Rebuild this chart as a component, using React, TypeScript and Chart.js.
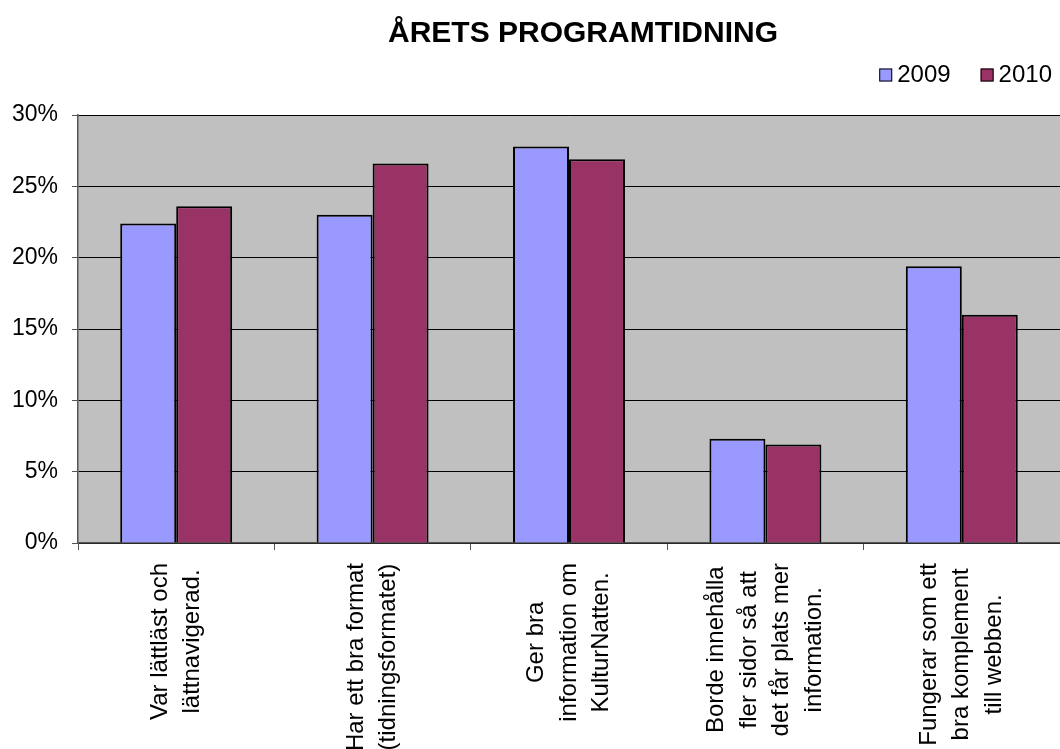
import React, { useEffect, useRef } from "react";
import { Chart, registerables } from "chart.js";

Chart.register(...registerables);

const TITLE = "ÅRETS PROGRAMTIDNING";
const CATEGORIES: string[][] = [
  ["Var lättläst och", "lättnavigerad."],
  ["Har ett bra format", "(tidningsformatet)"],
  ["Ger bra", "information om", "KulturNatten."],
  ["Borde innehålla", "fler sidor så att", "det får plats mer", "information."],
  ["Fungerar som ett", "bra komplement", "till webben."],
];
const SERIES_2009 = [22.4, 23.0, 27.8, 7.3, 19.4];
const SERIES_2010 = [23.6, 26.6, 26.9, 6.9, 16.0];
const SERIES_NAMES = ["2009", "2010"];
const Y_TICKS = [0, 5, 10, 15, 20, 25, 30];

const FONT = "'Liberation Sans', Arial, sans-serif";

const titlePlugin = {
  id: "customTitle",
  afterDraw(chart: any) {
    const ctx = chart.ctx;
    ctx.save();
    ctx.font = `bold 30px ${FONT}`;
    ctx.fillStyle = "#000";
    ctx.textAlign = "center";
    ctx.textBaseline = "middle";
    ctx.fillText(TITLE, chart.width * 0.55, 34);
    ctx.restore();
  },
};

// legend drawn from the datasets (label + colour), right-aligned at the top
const legendPlugin = {
  id: "customLegend",
  afterDraw(chart: any) {
    const ctx = chart.ctx;
    const items = chart.data.datasets.map((d: any) => ({ text: d.label, color: d.backgroundColor }));
    ctx.save();
    ctx.font = `24px ${FONT}`;
    ctx.textBaseline = "middle";
    ctx.textAlign = "left";
    const cy = 75;
    const box = 13;
    const gapBoxText = 5;
    const gapItems = 30;
    let right = chart.width - 8;
    for (let i = items.length - 1; i >= 0; i--) {
      const it = items[i];
      const tw = ctx.measureText(it.text).width;
      const tx = right - tw;
      const bx = tx - gapBoxText - box;
      ctx.fillStyle = it.color;
      ctx.fillRect(bx, cy - box / 2, box, box);
      ctx.strokeStyle = "#000";
      ctx.lineWidth = 1;
      ctx.strokeRect(bx + 0.5, cy - box / 2 + 0.5, box - 1, box - 1);
      ctx.fillStyle = "#000";
      ctx.fillText(it.text, tx, cy);
      right = bx - gapItems;
    }
    ctx.restore();
  },
};

const catLabelPlugin = {
  id: "catLabels",
  afterDraw(chart: any) {
    const ctx = chart.ctx;
    const xs = chart.scales.x;
    const bottom = chart.chartArea.bottom;
    const lineH = 32.5;
    ctx.save();
    ctx.font = `24px ${FONT}`;
    ctx.fillStyle = "#000";
    ctx.textAlign = "center";
    ctx.textBaseline = "middle";
    CATEGORIES.forEach((lines, i) => {
      const x = xs.getPixelForValue(i);
      const maxW = Math.max(...lines.map((l) => ctx.measureText(l).width));
      ctx.save();
      ctx.translate(x, bottom + 20 + maxW / 2);
      ctx.rotate(-Math.PI / 2);
      lines.forEach((line, j) => {
        const off = (j - (lines.length - 1) / 2) * lineH;
        ctx.fillText(line, 0, off);
      });
      ctx.restore();
    });
    ctx.restore();
  },
};

const bgPlugin = {
  id: "plotBg",
  beforeDraw(chart: any) {
    const { ctx, chartArea } = chart;
    ctx.save();
    ctx.fillStyle = "#C0C0C0";
    ctx.fillRect(chartArea.left, chartArea.top, chartArea.right - chartArea.left, chartArea.bottom - chartArea.top);
    ctx.restore();
  },
};

export default function App() {
  const ref = useRef<HTMLCanvasElement | null>(null);

  useEffect(() => {
    document.body.style.margin = "0";
    if (!ref.current) return;
    const chart = new Chart(ref.current, {
      type: "bar",
      data: {
        labels: CATEGORIES.map((c) => c.join(" ")),
        datasets: [
          {
            label: SERIES_NAMES[0],
            data: SERIES_2009,
            backgroundColor: "#9999FF",
            borderColor: "#000000",
            borderWidth: 2,
          },
          {
            label: SERIES_NAMES[1],
            data: SERIES_2010,
            backgroundColor: "#993366",
            borderColor: "#000000",
            borderWidth: 2,
          },
        ],
      },
      options: {
        animation: false,
        responsive: true,
        maintainAspectRatio: false,
        layout: { padding: { top: 115, right: 0, left: 0, bottom: 0 } },
        datasets: {
          bar: { categoryPercentage: 0.57, barPercentage: 1.0 },
        },
        plugins: {
          title: { display: false },
          tooltip: { enabled: false },
          legend: { display: false },
        },
        scales: {
          x: {
            grid: {
              display: true,
              offset: true,
              drawOnChartArea: false,
              drawTicks: true,
              tickLength: 7,
              color: "#555",
            },
            border: { display: true, color: "#555", width: 1.5 },
            ticks: { display: false },
            afterFit: (scale: any) => {
              scale.height = 206;
            },
          },
          y: {
            min: 0,
            max: 30,
            afterBuildTicks: (scale: any) => {
              scale.ticks = Y_TICKS.map((v) => ({ value: v }));
            },
            grid: {
              color: "#000",
              lineWidth: 1,
              drawTicks: true,
              tickLength: 6,
              tickColor: "#555",
            },
            border: { display: true, color: "#555", width: 1.5 },
            ticks: {
              padding: 14,
              color: "#000",
              font: { family: FONT, size: 23 },
              callback: (v: any) => `${v}%`,
            },
            afterFit: (scale: any) => {
              scale.width = 78;
            },
          },
        },
      },
      plugins: [bgPlugin, titlePlugin, legendPlugin, catLabelPlugin],
    });
    return () => chart.destroy();
  }, []);

  return (
    <div style={{ position: "fixed", left: 0, top: 0, width: 1060, height: 749 }}>
      <canvas ref={ref} />
    </div>
  );
}
